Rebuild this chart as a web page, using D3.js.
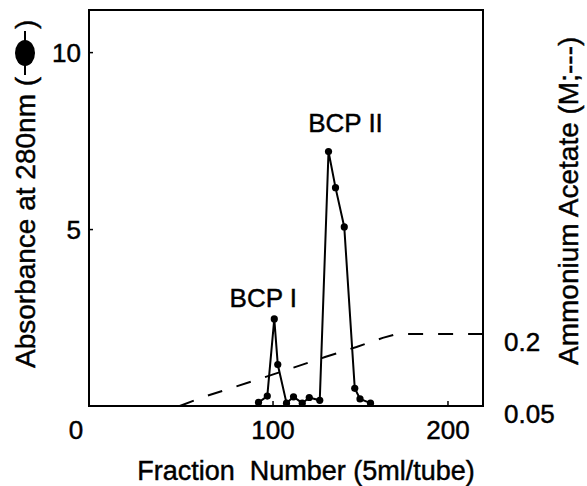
<!DOCTYPE html>
<html>
<head>
<meta charset="utf-8">
<script src="https://cdn.jsdelivr.net/npm/d3@7"></script>
<style>
  body { margin: 0; background: #fff; }
  text { font-family: "Liberation Sans", Arial, sans-serif; fill: #000; stroke: #000; stroke-width: 0.45px; }
</style>
</head>
<body>
<div id="chart"></div>
<script>
// Absorbance at 280nm per fraction (filled dots)
const fractions = [92, 97, 101, 103, 108, 112, 117, 121, 127, 132, 136, 141, 147, 150, 156];
const absorbance = [0.1, 0.28, 2.46, 1.17, 0.08, 0.26, 0.08, 0.24, 0.16, 7.19, 6.17, 5.06, 0.5, 0.2, 0.08];

// Ammonium acetate gradient (dashed line)
const gradFractions = [47, 59, 76, 94, 112, 130, 148, 163, 171, 220];
const gradConc = [0.05, 0.067, 0.087, 0.108, 0.13, 0.152, 0.173, 0.192, 0.2, 0.2];

// Tick labels
const xTicks = [100, 200];
const yTicks = [5, 10];
const yRightTicks = [0.05, 0.2];

// Peak labels
const peakNames = ["BCP I", "BCP II"];
const peakFractions = [101, 132];
const peakValues = [2.46, 7.19];

const W = 587, H = 486;
const frame = { left: 89, right: 483, top: 10, bottom: 406 };

const svg = d3.select("#chart")
  .append("svg")
  .attr("width", W)
  .attr("height", H);

// Scales
const x = d3.scaleLinear().domain([-4.9, 220.3]).range([frame.left, frame.right]);
const y = d3.scaleLinear().domain([0, 11.19]).range([frame.bottom, frame.top]);
const yR = d3.scaleLinear().domain([0.05, 0.2]).range([frame.bottom, 334]);

// Frame box
svg.append("rect")
  .attr("x", frame.left)
  .attr("y", frame.top)
  .attr("width", frame.right - frame.left)
  .attr("height", frame.bottom - frame.top)
  .attr("fill", "none")
  .attr("stroke", "#000")
  .attr("stroke-width", 2);

// Left axis ticks (inward)
const yAxis = svg.append("g")
  .attr("transform", `translate(${frame.left},0)`)
  .call(d3.axisLeft(y).tickValues(yTicks).tickSizeInner(-4).tickSizeOuter(0).tickPadding(8));
yAxis.select(".domain").remove();
yAxis.selectAll("line").attr("stroke-width", 1.5);
yAxis.selectAll("text").style("font-size", "26px").attr("dy", "0.36em");

// Bottom axis ticks (inward)
const xAxis = svg.append("g")
  .attr("transform", `translate(0,${frame.bottom})`)
  .call(d3.axisBottom(x).tickValues(xTicks).tickSizeInner(-5).tickSizeOuter(0).tickPadding(14));
xAxis.select(".domain").remove();
xAxis.selectAll("line").attr("stroke-width", 1.5);
xAxis.selectAll("text").style("font-size", "26px").attr("y", 33).attr("dy", 0);

// Shared "0" at the corner
svg.append("text")
  .attr("x", frame.left - 13)
  .attr("y", frame.bottom + 33)
  .attr("text-anchor", "middle")
  .style("font-size", "26px")
  .text("0");

// Right axis labels (no ticks)
svg.append("g")
  .selectAll("text")
  .data(yRightTicks)
  .join("text")
  .attr("x", frame.right + 21)
  .attr("y", d => yR(d) + 17)
  .style("font-size", "26px")
  .text(d => String(d));

// Gradient dashed line
const gradLine = d3.line()
  .x(d => x(d[0]))
  .y(d => yR(d[1]));
svg.append("path")
  .datum(d3.zip(gradFractions, gradConc))
  .attr("d", gradLine)
  .attr("fill", "none")
  .attr("stroke", "#000")
  .attr("stroke-width", 2)
  .attr("stroke-dasharray", "15,15");

// Absorbance line and dots
const absData = d3.zip(fractions, absorbance);
const absLine = d3.line()
  .x(d => x(d[0]))
  .y(d => y(d[1]));
svg.append("path")
  .datum(absData)
  .attr("d", absLine)
  .attr("fill", "none")
  .attr("stroke", "#000")
  .attr("stroke-width", 2);

svg.append("g")
  .selectAll("circle")
  .data(absData)
  .join("circle")
  .attr("cx", d => x(d[0]))
  .attr("cy", d => y(d[1]))
  .attr("r", 3.6)
  .attr("fill", "#000");

// Peak labels: BCP I sits left of its peak, BCP II right of its peak
const labelDx = [-11, 17];
const labelDy = [-12, -20];
svg.append("g")
  .selectAll("text")
  .data(d3.zip(peakNames, peakFractions, peakValues))
  .join("text")
  .attr("x", (d, i) => x(d[1]) + labelDx[i])
  .attr("y", (d, i) => y(d[2]) + labelDy[i])
  .attr("text-anchor", "middle")
  .style("font-size", "26px")
  .text(d => d[0]);

// X axis title
svg.append("text")
  .attr("x", 306)
  .attr("y", 480)
  .attr("text-anchor", "middle")
  .style("font-size", "27px")
  .attr("xml:space", "preserve")
  .text("Fraction  Number (5ml/tube)");

// Left axis title with the filled-dot symbol
const leftTitle = svg.append("g")
  .attr("transform", "translate(35,368) rotate(-90)");
const lt = leftTitle.append("text")
  .style("font-size", "28px")
  .text("Absorbance at 280nm (");
const ltLen = lt.node().getComputedTextLength();
leftTitle.append("line")
  .attr("x1", ltLen + 2).attr("x2", ltLen + 12)
  .attr("y1", -10).attr("y2", -10)
  .attr("stroke", "#000").attr("stroke-width", 2);
leftTitle.append("ellipse")
  .attr("cx", ltLen + 24).attr("cy", -10)
  .attr("rx", 13).attr("ry", 10)
  .attr("fill", "#000");
leftTitle.append("line")
  .attr("x1", ltLen + 36).attr("x2", ltLen + 46)
  .attr("y1", -10).attr("y2", -10)
  .attr("stroke", "#000").attr("stroke-width", 2);
leftTitle.append("text")
  .attr("x", ltLen + 48)
  .style("font-size", "28px")
  .text(")");

// Right axis title
svg.append("text")
  .attr("transform", "translate(578,365) rotate(-90)")
  .style("font-size", "28px")
  .text("Ammonium Acetate (M;---)");
</script>
</body>
</html>
